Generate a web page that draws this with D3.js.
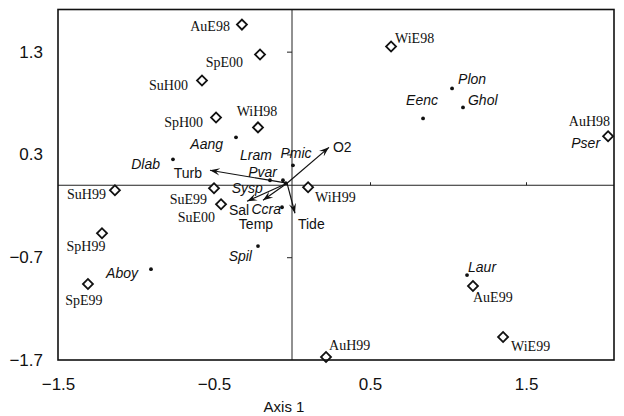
<!DOCTYPE html>
<html>
<head>
<meta charset="utf-8">
<script src="https://cdn.jsdelivr.net/npm/d3@7"></script>
<style>
  html, body { margin: 0; padding: 0; background: #fff; }
  svg { display: block; }
</style>
</head>
<body>
<svg id="chart" width="624" height="416"></svg>
<script>
// Ordination diagram: sampling sites, species scores and environmental vectors

// Sites (season + station + year)
const siteNames = ["AuE98", "SpE00", "SuH00", "SpH00", "WiH98", "SuH99", "SuE99", "SuE00",
                   "SpH99", "SpE99", "WiH99", "WiE98", "AuH98", "AuE99", "WiE99", "AuH99"];
const siteAxis1 = [-0.321, -0.205, -0.577, -0.487, -0.218, -1.135, -0.500, -0.455,
                   -1.218, -1.308, 0.103, 0.635, 2.026, 1.160, 1.353, 0.218];
const siteAxis2 = [1.563, 1.272, 1.019, 0.660, 0.563, -0.049, -0.029, -0.184,
                   -0.466, -0.961, -0.019, 1.350, 0.476, -0.981, -1.476, -1.670];

// Species
const speciesNames = ["Aang", "Dlab", "Lram", "Pvar", "Pmic", "Sysp", "Ccra", "Spil",
                      "Aboy", "Eenc", "Plon", "Ghol", "Pser", "Laur"];
const speciesAxis1 = [-0.359, -0.763, -0.141, -0.058, 0.006, -0.040, -0.064, -0.218,
                      -0.904, 0.840, 1.026, 1.096, 2.026, 1.122];
const speciesAxis2 = [0.466, 0.252, 0.049, 0.049, 0.194, 0.020, -0.214, -0.592,
                      -0.816, 0.650, 0.942, 0.757, 0.476, -0.874];

// Environmental variables (vector tips)
const envNames = ["O2", "Turb", "Tide", "Sal", "Temp"];
const envAxis1 = [0.237, -0.526, 0.019, -0.288, -0.186];
const envAxis2 = [0.369, 0.146, -0.272, -0.155, -0.146];
const envOrigin = [-0.032, 0.020];

// Tick labels
const xTicks = [-1.5, -0.5, 0.5, 1.5];
const yTicks = [1.3, 0.3, -0.7, -1.7];
const xTitle = "Axis 1";

// Label placement (pixel offsets from the mark, text anchor)
const siteLabelPos = {
  AuE98: [-12, 6, "end"], SpE00: [-17, 12, "end"], SuH00: [-14, 9, "end"],
  SpH00: [-13, 10, "end"], WiH98: [-1, -11, "middle"], SuH99: [-9, 9, "end"],
  SuE99: [-7, 16, "end"], SuE00: [-6, 18, "end"], SpH99: [-16, 18, "middle"],
  SpE99: [-4, 21, "middle"], WiH99: [7, 15, "start"], WiE98: [4, -4, "start"],
  AuH98: [2, -10, "end"], AuE99: [0, 16, "start"], WiE99: [8, 14, "start"],
  AuH99: [3, -7, "start"]
};
const speciesLabelPos = {
  Aang: [-13, 12, "end"], Dlab: [-13, 10, "end"], Lram: [-14, -20, "middle"],
  Pvar: [-6, -3, "end"], Pmic: [3, -7, "middle"], Sysp: [-23, 10, "end"],
  Ccra: [-1, 7, "end"], Spil: [-6, 15, "end"], Aboy: [-13, 9, "end"],
  Eenc: [-1, -13, "middle"], Plon: [6, -4, "start"], Ghol: [5, -2, "start"],
  Pser: [-8, 12, "end"], Laur: [1, -3, "start"]
};
const envLabelPos = {
  O2: [4, 5, "start"], Turb: [-8, 8, "end"], Tide: [3, 16, "start"],
  Sal: [-8, 14, "middle"], Temp: [-7, 29, "middle"]
};

const svg = d3.select("#chart");
const plotL = 58, plotR = 614, plotT = 9.5, plotB = 360;

const x = d3.scaleLinear().domain([-1.5, 2.064]).range([plotL, plotR]);
const y = d3.scaleLinear().domain([-1.7, 1.71]).range([plotB, plotT]);

const sans = "Arial, 'Liberation Sans', sans-serif";
const serif = "'Times New Roman', 'Liberation Serif', serif";

// zero lines
svg.append("line")
  .attr("x1", x(0)).attr("x2", x(0)).attr("y1", plotT).attr("y2", plotB)
  .attr("stroke", "#222").attr("stroke-width", 1);
svg.append("line")
  .attr("x1", plotL).attr("x2", plotR).attr("y1", y(0)).attr("y2", y(0))
  .attr("stroke", "#222").attr("stroke-width", 1);

// small ticks on the zero lines
const yInner = svg.append("g").attr("transform", `translate(${x(0)},0)`)
  .call(d3.axisLeft(y).tickValues(yTicks.slice(0, 3)).tickSize(5).tickFormat(""));
yInner.select(".domain").remove();
yInner.selectAll("line").attr("stroke", "#222");
const xInner = svg.append("g").attr("transform", `translate(0,${y(0)})`)
  .call(d3.axisTop(x).tickValues(xTicks.slice(2)).tickSize(3).tickFormat(""));
xInner.select(".domain").remove();
xInner.selectAll("line").attr("stroke", "#222");

// tick labels outside the frame
const yAxis = svg.append("g").attr("transform", `translate(${plotL},0)`)
  .call(d3.axisLeft(y).tickValues(yTicks).tickSize(0).tickPadding(15).tickFormat(d3.format(".1f")));
yAxis.select(".domain").remove();
yAxis.selectAll("text").attr("font-size", 17).attr("fill", "#111").attr("font-family", sans);

const xAxis = svg.append("g").attr("transform", `translate(0,${plotB})`)
  .call(d3.axisBottom(x).tickValues(xTicks).tickSize(0).tickPadding(18).tickFormat(d3.format(".1f")));
xAxis.select(".domain").remove();
xAxis.selectAll("text").attr("font-size", 17).attr("fill", "#111").attr("font-family", sans);

svg.append("text")
  .attr("x", 284).attr("y", 412).attr("text-anchor", "middle")
  .attr("font-family", sans).attr("font-size", 15).attr("fill", "#111")
  .text(xTitle);

// arrowhead
svg.append("defs").append("marker")
  .attr("id", "head").attr("viewBox", "-10 -5 12 10")
  .attr("refX", 0).attr("refY", 0)
  .attr("markerWidth", 12).attr("markerHeight", 10)
  .attr("markerUnits", "userSpaceOnUse")
  .attr("orient", "auto")
  .append("path").attr("d", "M0,0 L-10,-3.6 L-6,0 L-10,3.6 Z").attr("fill", "#111");

// species dots
const species = speciesNames.map((n, i) => ({ name: n, a1: speciesAxis1[i], a2: speciesAxis2[i] }));
svg.append("g").selectAll("circle").data(species).join("circle")
  .attr("cx", d => x(d.a1)).attr("cy", d => y(d.a2)).attr("r", 1.9).attr("fill", "#111");

// environmental vectors
const env = envNames.map((n, i) => ({ name: n, a1: envAxis1[i], a2: envAxis2[i] }));
svg.append("g").selectAll("line").data(env).join("line")
  .attr("x1", x(envOrigin[0])).attr("y1", y(envOrigin[1]))
  .attr("x2", d => x(d.a1)).attr("y2", d => y(d.a2))
  .attr("stroke", "#111").attr("stroke-width", 1.2)
  .attr("marker-end", "url(#head)");

// sites
const sites = siteNames.map((n, i) => ({ name: n, a1: siteAxis1[i], a2: siteAxis2[i] }));
const diamond = d3.symbol().type(d3.symbolSquare).size(50);
svg.append("g").selectAll("path").data(sites).join("path")
  .attr("d", diamond)
  .attr("transform", d => `translate(${x(d.a1)},${y(d.a2)}) rotate(45)`)
  .attr("fill", "#fff").attr("stroke", "#111").attr("stroke-width", 1.8);

// frame
svg.append("rect")
  .attr("x", plotL).attr("y", plotT).attr("width", plotR - plotL).attr("height", plotB - plotT)
  .attr("fill", "none").attr("stroke", "#111").attr("stroke-width", 1.6);

// labels
svg.append("g").selectAll("text").data(sites).join("text")
  .attr("x", d => x(d.a1) + siteLabelPos[d.name][0])
  .attr("y", d => y(d.a2) + siteLabelPos[d.name][1])
  .attr("text-anchor", d => siteLabelPos[d.name][2])
  .attr("font-family", serif).attr("font-size", 14).attr("fill", "#111")
  .text(d => d.name);

svg.append("g").selectAll("text").data(species).join("text")
  .attr("x", d => x(d.a1) + speciesLabelPos[d.name][0])
  .attr("y", d => y(d.a2) + speciesLabelPos[d.name][1])
  .attr("text-anchor", d => speciesLabelPos[d.name][2])
  .attr("font-family", sans).attr("font-style", "italic").attr("font-size", 14).attr("fill", "#111")
  .text(d => d.name);

svg.append("g").selectAll("text").data(env).join("text")
  .attr("x", d => x(d.a1) + envLabelPos[d.name][0])
  .attr("y", d => y(d.a2) + envLabelPos[d.name][1])
  .attr("text-anchor", d => envLabelPos[d.name][2])
  .attr("font-family", sans).attr("font-size", 14).attr("fill", "#111")
  .text(d => d.name);
</script>
</body>
</html>
